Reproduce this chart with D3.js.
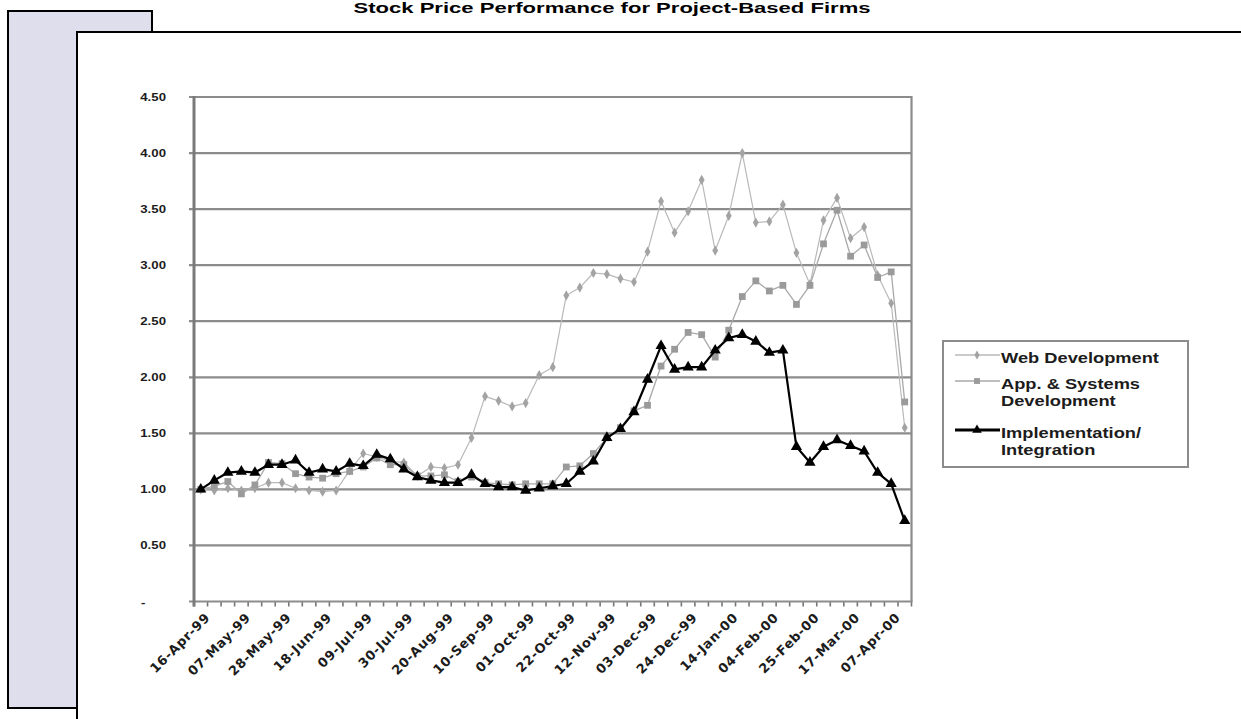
<!DOCTYPE html>
<html>
<head>
<meta charset="utf-8">
<script src="https://cdn.jsdelivr.net/npm/d3@7"></script>
<style>
  html, body { margin: 0; padding: 0; background: #fff; overflow: hidden; }
  svg { display: block; }
</style>
</head>
<body>
<svg id="chart" width="1241" height="719"></svg>
<script>
// Weekly closing dates (category axis)
const weeks = [
  "16-Apr-99","23-Apr-99","30-Apr-99","07-May-99","14-May-99","21-May-99","28-May-99",
  "04-Jun-99","11-Jun-99","18-Jun-99","25-Jun-99","02-Jul-99","09-Jul-99","16-Jul-99",
  "23-Jul-99","30-Jul-99","06-Aug-99","13-Aug-99","20-Aug-99","27-Aug-99","03-Sep-99",
  "10-Sep-99","17-Sep-99","24-Sep-99","01-Oct-99","08-Oct-99","15-Oct-99","22-Oct-99",
  "29-Oct-99","05-Nov-99","12-Nov-99","19-Nov-99","26-Nov-99","03-Dec-99","10-Dec-99",
  "17-Dec-99","24-Dec-99","31-Dec-99","07-Jan-00","14-Jan-00","21-Jan-00","28-Jan-00",
  "04-Feb-00","11-Feb-00","18-Feb-00","25-Feb-00","03-Mar-00","10-Mar-00","17-Mar-00",
  "24-Mar-00","31-Mar-00","07-Apr-00","14-Apr-00"
];

// Dates that carry a label on the category axis
const tickLabels = [
  "16-Apr-99","07-May-99","28-May-99","18-Jun-99","09-Jul-99","30-Jul-99","20-Aug-99",
  "10-Sep-99","01-Oct-99","22-Oct-99","12-Nov-99","03-Dec-99","24-Dec-99","14-Jan-00",
  "04-Feb-00","25-Feb-00","17-Mar-00","07-Apr-00"
];

// Indexed share price (16-Apr-99 = 1.00)
const webDev = [
  1.00,0.99,1.01,0.99,1.01,1.06,1.06,1.01,0.99,0.98,0.99,1.17,1.32,1.29,1.25,1.24,1.12,
  1.20,1.19,1.22,1.46,1.83,1.79,1.74,1.77,2.02,2.09,2.73,2.80,2.93,2.92,2.88,2.85,3.12,
  3.57,3.29,3.48,3.76,3.13,3.44,4.00,3.38,3.39,3.54,3.11,2.83,3.40,3.60,3.24,3.34,2.91,
  2.66,1.55
];
const appSys = [
  1.00,1.03,1.07,0.96,1.04,1.24,1.23,1.14,1.11,1.10,1.14,1.16,1.20,1.28,1.22,1.22,1.12,
  1.12,1.13,1.07,1.11,1.06,1.05,1.04,1.05,1.05,1.05,1.20,1.21,1.32,1.46,1.55,1.70,1.75,
  2.10,2.25,2.40,2.38,2.18,2.42,2.72,2.86,2.77,2.82,2.65,2.82,3.19,3.49,3.08,3.18,2.89,
  2.94,1.78
];
const implInt = [
  1.00,1.08,1.15,1.16,1.15,1.22,1.22,1.26,1.15,1.18,1.16,1.23,1.21,1.31,1.27,1.18,1.11,
  1.08,1.06,1.06,1.13,1.05,1.02,1.02,0.99,1.01,1.03,1.05,1.16,1.25,1.46,1.54,1.69,1.98,
  2.28,2.07,2.09,2.09,2.24,2.35,2.38,2.32,2.22,2.24,1.38,1.24,1.38,1.44,1.39,1.34,1.15,
  1.05,0.72
];

const yTicks = [0, 0.5, 1, 1.5, 2, 2.5, 3, 3.5, 4, 4.5];
const legendLabels = [
  ["Web Development"],
  ["App. & Systems", "Development"],
  ["Implementation/", "Integration"]
];
const chartTitle = "Stock Price Performance for Project-Based Firms";

// ---------------------------------------------------------------------------
const svg = d3.select("#chart");
const FONT = "'Liberation Sans', Arial, Helvetica, sans-serif";
const TEXT = "#1c1c1c";
const STRETCH = 1.26;   // wide lettering used throughout

const series = [
  { values: webDev,  line: "#b9b9b9", lw: 1.2, mark: "#a3a3a3", sym: d3.symbolDiamond,  size: 30 },
  { values: appSys,  line: "#a9a9a9", lw: 1.3, mark: "#9a9a9a", sym: d3.symbolSquare,   size: 46 },
  { values: implInt, line: "#000000", lw: 2.2, mark: "#000000", sym: d3.symbolTriangle, size: 54 }
];

// Background panels
svg.append("rect")
  .attr("x", 8).attr("y", 11).attr("width", 144).attr("height", 697)
  .attr("fill", "#dfdeed").attr("stroke", "#000").attr("stroke-width", 2);
svg.append("rect")
  .attr("x", 77).attr("y", 32).attr("width", 1200).attr("height", 720)
  .attr("fill", "#fff").attr("stroke", "#000").attr("stroke-width", 2);

// Title
svg.append("text")
  .attr("x", 612).attr("y", 13)
  .attr("text-anchor", "middle")
  .attr("font-family", FONT).attr("font-weight", "bold").attr("font-size", 15.5)
  .attr("fill", "#000")
  .attr("textLength", 517).attr("lengthAdjust", "spacingAndGlyphs")
  .text(chartTitle);

// Scales
const plot = { left: 194, right: 911.5, top: 97, bottom: 601.5 };
const x = d3.scaleBand().domain(weeks).range([plot.left, plot.right]).paddingInner(0).paddingOuter(0);
const cx = d => x(d) + x.bandwidth() / 2;
const y = d3.scaleLinear().domain([0, 4.5]).range([plot.bottom, plot.top]);

// Gridlines
svg.append("g").selectAll("line")
  .data(yTicks.filter(v => v > 0))
  .join("line")
  .attr("x1", plot.left - 5).attr("x2", plot.right)
  .attr("y1", d => y(d)).attr("y2", d => y(d))
  .attr("stroke", "#8c8c8c").attr("stroke-width", 2.2);

// Right edge of plot area
svg.append("line")
  .attr("x1", plot.right).attr("x2", plot.right)
  .attr("y1", plot.top - 1).attr("y2", plot.bottom)
  .attr("stroke", "#8c8c8c").attr("stroke-width", 2.2);

// Category axis with tick marks at category boundaries
const xAxisG = svg.append("g");
const boundaries = weeks.map(w => x(w)).concat([plot.right]);
xAxisG.selectAll("line.tick")
  .data(boundaries)
  .join("line").attr("class", "tick")
  .attr("x1", d => d).attr("x2", d => d)
  .attr("y1", plot.bottom).attr("y2", plot.bottom + 5)
  .attr("stroke", "#777").attr("stroke-width", 1.6);
xAxisG.append("line")
  .attr("x1", plot.left - 5).attr("x2", plot.right + 1)
  .attr("y1", plot.bottom).attr("y2", plot.bottom)
  .attr("stroke", "#8c8c8c").attr("stroke-width", 2.2);

xAxisG.selectAll("text")
  .data(tickLabels)
  .join("text")
  .attr("transform", d => `translate(${cx(d) + 10},${plot.bottom + 17}) rotate(-45)`)
  .attr("text-anchor", "end")
  .attr("font-family", "'DejaVu Sans', Verdana, sans-serif")
  .attr("font-weight", "bold").attr("font-size", 13)
  .attr("letter-spacing", 0.6)
  .attr("fill", TEXT)
  .text(d => d);

// Value axis
svg.append("line")
  .attr("x1", plot.left).attr("x2", plot.left)
  .attr("y1", plot.top - 1).attr("y2", plot.bottom + 5)
  .attr("stroke", "#7a7a7a").attr("stroke-width", 3);

const yLab = svg.append("g").selectAll("g")
  .data(yTicks)
  .join("g")
  .attr("transform", d => d === 0
    ? `translate(141,${y(d) + 4}) scale(${STRETCH},1)`
    : `translate(166,${y(d) + 4}) scale(${STRETCH},1)`);
yLab.append("text")
  .attr("text-anchor", d => d === 0 ? "start" : "end")
  .attr("font-family", FONT).attr("font-weight", "bold").attr("font-size", 10.5)
  .attr("fill", TEXT)
  .text(d => d === 0 ? "-" : d3.format(".2f")(d));

// Series lines and markers (drawn in series order)
const line = d3.line().x((v, i) => cx(weeks[i])).y(v => y(v));
series.forEach(s => {
  svg.append("path")
    .datum(s.values)
    .attr("d", line)
    .attr("fill", "none")
    .attr("stroke", s.line).attr("stroke-width", s.lw)
    .attr("stroke-linejoin", "round");
  svg.append("g").selectAll("path")
    .data(s.values)
    .join("path")
    .attr("transform", (v, i) => `translate(${cx(weeks[i])},${y(v)})`)
    .attr("d", d3.symbol().type(s.sym).size(s.size))
    .attr("fill", s.mark);
});

// Legend
const legend = svg.append("g");
legend.append("rect")
  .attr("x", 943).attr("y", 341).attr("width", 245).attr("height", 126)
  .attr("fill", "#fff").attr("stroke", "#8c8c8c").attr("stroke-width", 2);

const legendRows = [355, 381, 430];
series.forEach((s, k) => {
  const ly = legendRows[k];
  legend.append("line")
    .attr("x1", 955).attr("x2", 1000).attr("y1", ly).attr("y2", ly)
    .attr("stroke", s.line).attr("stroke-width", k === 2 ? 3 : s.lw + 0.4);
  legend.append("path")
    .attr("transform", `translate(977,${ly})`)
    .attr("d", d3.symbol().type(s.sym).size(s.size * 0.75))
    .attr("fill", s.mark);
  legendLabels[k].forEach((t, j) => {
    legend.append("g")
      .attr("transform", `translate(1001,${ly + 8 + j * 16.5}) scale(${STRETCH},1)`)
      .append("text")
      .attr("font-family", FONT).attr("font-weight", "bold").attr("font-size", 14.5)
      .attr("fill", TEXT)
      .text(t);
  });
});
</script>
</body>
</html>
